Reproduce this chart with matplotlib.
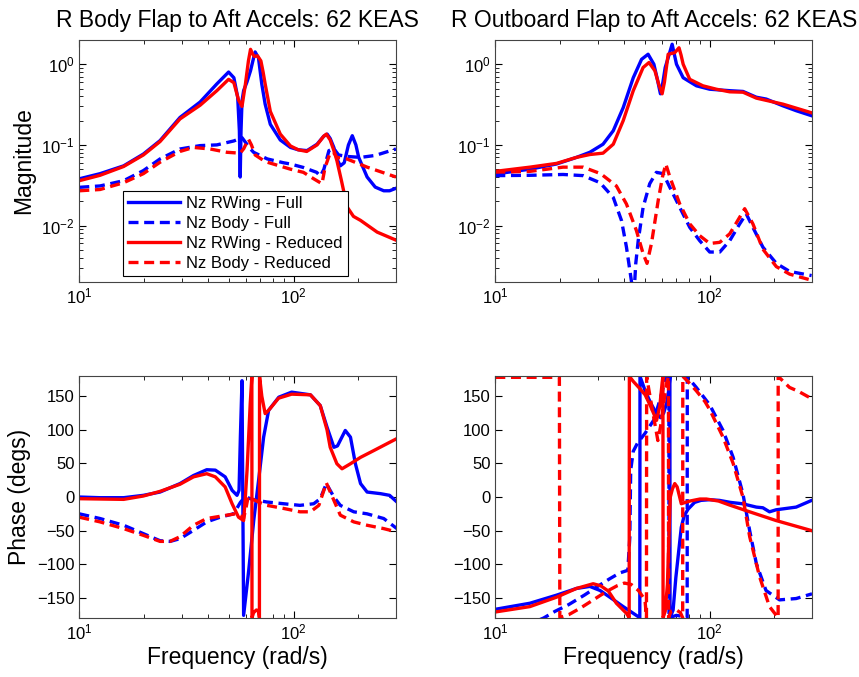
import numpy as np
import matplotlib
matplotlib.use("Agg")
import matplotlib.pyplot as plt
from matplotlib.ticker import LogLocator, FixedLocator

plt.rcParams['font.family'] = ['Liberation Sans', 'DejaVu Sans']
plt.rcParams['mathtext.fontset'] = 'custom'
plt.rcParams['mathtext.rm'] = 'Liberation Sans'
plt.rcParams['mathtext.it'] = 'Liberation Sans'

titles = ["R Body Flap to Aft Accels: 62 KEAS", "R Outboard Flap to Aft Accels: 62 KEAS"]
labels = ["Nz RWing - Full", "Nz Body - Full", "Nz RWing - Reduced", "Nz Body - Reduced"]

# ---- body flap, magnitude ----
bm_wing_full_f = [10, 12.5, 16.1, 19.9, 23.8, 29.5, 36.6, 43.8, 49.7, 52.6, 54.8, 55.8, 56.3, 56.8, 57.4, 58.4,
                  60.5, 62.9, 64.5, 66.1, 68.5, 71, 73.6, 77.8, 86.6, 96.6, 105, 115.4, 128.5, 138, 143.3, 148,
                  153.9, 160, 165, 172, 180, 187.6, 195, 201, 220, 240, 263, 280, 300]
bm_wing_full = [0.038, 0.044, 0.055, 0.077, 0.113, 0.219, 0.34, 0.57, 0.80, 0.68, 0.39, 0.15, 0.04, 0.15, 0.35, 0.47,
                0.6, 0.83, 1.1, 1.42, 1.2, 0.565, 0.32, 0.18, 0.115, 0.093, 0.087, 0.085, 0.102, 0.128, 0.136, 0.12,
                0.093, 0.065, 0.055, 0.06, 0.1, 0.13, 0.1, 0.07, 0.04, 0.03, 0.027, 0.027, 0.029]
bm_body_full_f = [10, 12.5, 16.1, 19.9, 23.8, 29.5, 36.6, 43.8, 52.6, 57.4, 60, 62.9, 65, 75.3, 89.8, 96.6, 111,
                  128, 133.2, 138.3, 146, 153.8, 162, 177, 205, 240, 300]
bm_body_full = [0.0298, 0.031, 0.036, 0.048, 0.067, 0.089, 0.098, 0.1, 0.112, 0.123, 0.105, 0.089, 0.081, 0.067,
                0.06, 0.058, 0.0525, 0.0457, 0.041, 0.05, 0.085, 0.09, 0.075, 0.072, 0.07, 0.074, 0.089]
bm_wing_red_f = [10, 12.5, 16.1, 19.9, 23.8, 29.5, 36.6, 43.8, 49.7, 52.6, 55.3, 57.4, 59.5, 61.5, 62.9, 64.2,
                 65.5, 67.8, 70.3, 72, 73.6, 77.8, 86.6, 96.6, 105, 115, 128.5, 138, 142, 148, 154, 159, 167,
                 177.5, 190, 205, 245, 300]
bm_wing_red = [0.036, 0.042, 0.054, 0.075, 0.11, 0.21, 0.31, 0.47, 0.65, 0.59, 0.36, 0.30, 0.56, 1.1, 1.53, 1.35,
               1.25, 1.27, 1.1, 0.8, 0.57, 0.26, 0.136, 0.097, 0.087, 0.083, 0.1, 0.128, 0.136, 0.115, 0.085, 0.064,
               0.036, 0.017, 0.013, 0.0116, 0.0083, 0.0066]
bm_body_red_f = [10, 12.5, 16.1, 19.9, 23.8, 29.5, 34.1, 40.8, 48.8, 56.3, 58.5, 61.5, 63.5, 66.1, 72.4, 75.3,
                 89.8, 96.6, 111, 124, 135.5, 140, 148.3, 154, 159, 177, 220, 300]
bm_body_red = [0.027, 0.028, 0.034, 0.044, 0.061, 0.083, 0.093, 0.089, 0.081, 0.079, 0.09, 0.118, 0.1, 0.075,
               0.064, 0.061, 0.053, 0.05, 0.0457, 0.038, 0.033, 0.0525, 0.081, 0.08, 0.07, 0.067, 0.053, 0.04]

# ---- outboard flap, magnitude ----
om_wing_full_f = [10, 14.5, 19.3, 23.9, 27.6, 31.8, 35.5, 39.5, 44, 48.1, 51.6, 54.9, 57, 58.9, 60.5, 62, 64,
                  66.8, 68.5, 70, 75.2, 86.7, 100, 124, 143, 165, 183.5, 219.6, 253.6, 298.7]
om_wing_full = [0.0436, 0.05, 0.058, 0.07, 0.081, 0.102, 0.15, 0.29, 0.68, 1.15, 1.33, 1.0, 0.65, 0.43, 0.6, 0.91,
                1.2, 1.77, 1.3, 1.0, 0.68, 0.54, 0.49, 0.47, 0.46, 0.39, 0.37, 0.305, 0.265, 0.23]
om_body_full_f = [10, 14.5, 20.7, 25.7, 30.8, 35.5, 38.8, 40.9, 43.2, 44.2, 45.2, 46.4, 48.9, 52.5, 56.4, 60.7,
                  65.2, 72.5, 80.7, 89.8, 100, 111.4, 124, 138, 148, 159, 177, 204.5, 236, 298.7]
om_body_full = [0.0416, 0.042, 0.043, 0.0416, 0.034, 0.0223, 0.0115, 0.0054, 0.002, 0.0012, 0.0034, 0.0065, 0.0168,
                0.033, 0.0457, 0.044, 0.0297, 0.0168, 0.0095, 0.0065, 0.0047, 0.0047, 0.0065, 0.0105, 0.014,
                0.0095, 0.0054, 0.0034, 0.0027, 0.0024]
om_wing_red_f = [10, 14.5, 19.3, 23.9, 27.6, 31.8, 35.5, 39.5, 44, 48.9, 52.1, 55.5, 58, 60, 61.5, 62.8, 64,
                 68.7, 71.9, 73.5, 75.2, 80.7, 93, 107.4, 124, 143, 165, 219.6, 298.7]
om_wing_red = [0.047, 0.053, 0.059, 0.07, 0.076, 0.079, 0.102, 0.2, 0.47, 0.91, 1.05, 0.83, 0.55, 0.43, 0.6, 0.91,
               1.33, 1.39, 1.6, 1.3, 1.0, 0.65, 0.54, 0.49, 0.455, 0.45, 0.38, 0.32, 0.25]
om_body_red_f = [10, 14.5, 20.7, 25.7, 31, 36.7, 40.9, 45.5, 48.9, 51, 53.5, 57.5, 60.2, 62.4, 65.2, 72.5, 80.7,
                 89.8, 100, 111.4, 124, 138, 145.6, 159, 177, 204.5, 236, 298.7]
om_body_red = [0.046, 0.047, 0.053, 0.053, 0.044, 0.031, 0.0185, 0.0087, 0.0045, 0.0034, 0.006, 0.0204, 0.04,
               0.058, 0.04, 0.0185, 0.0105, 0.0075, 0.006, 0.0062, 0.0079, 0.0127, 0.0162, 0.0105, 0.0051, 0.0031,
               0.0025, 0.0021]

# ---- body flap, phase ----
bp_wing_full_f = [10, 12.5, 16.1, 19.9, 23.8, 29.5, 34.1, 39.3, 43.1, 47.9, 51.6, 54.4, 55.6, 56.4, 57.4, 58.4,
                  61.7, 65.1, 68.6, 72.4, 76.4, 85.2, 97.8, 119.7, 133, 143, 154, 160, 174, 184, 194, 205, 220,
                  254, 280, 303]
bp_wing_full = [0, -1, -1, 2.5, 7.4, 20, 32, 40.6, 40, 30, 10, 2.5, 10, 89, 173, -176,
                -109, -35, 25, 89, 129, 148.5, 156, 152, 136, 104, 74, 76, 99, 89, 49.5, 20, 7.4,
                5, 2.5, -7.4]
bp_body_full_f = [10, 12.5, 16.1, 19.9, 23.8, 26.5, 29.5, 34.1, 39.3, 45.4, 52.5, 56.4, 58.5, 61, 65, 75, 89.8,
                  107, 124, 133, 142, 154, 165, 190.6, 220, 263, 303]
bp_body_full = [-25, -32, -42, -54.5, -65, -66, -62, -49.5, -37, -30, -25, -8, -2, -1, -4, -7.4, -10,
                -12.4, -10, -2.5, 20, 0, -12.4, -22, -25, -32, -47]
bp_wing_red_f = [10, 16.1, 19.9, 23.8, 29.5, 34.1, 39.3, 43.1, 47.9, 51.6, 55.3, 58.4, 59.5, 60.6, 62.7, 63.8,
                 63.9, 65, 67, 68.6, 69.2, 69.3, 71, 73.6, 76.4, 85, 97.8, 119.7, 133, 143, 148, 159, 168, 184,
                 205, 236, 303]
bp_wing_red = [-2.5, -3.5, 1.5, 8.4, 19, 30, 34.7, 30, 15, -10, -30, -35, 0, 40, 139, 179.5,
               -179.5, -172, -168, -170, -179.5, 179.5, 150, 124, 129, 147, 153, 152, 136, 100, 74, 49.5, 42, 49.5,
               59, 69, 87]
bp_body_red_f = [10, 12.5, 16.1, 19.9, 23.8, 26.5, 29.5, 34.1, 39.3, 48.8, 53.3, 56.4, 58.4, 60, 61.3, 63.8,
                 68.6, 75, 89.8, 107, 119.7, 131, 142, 154, 165, 190.6, 220, 263, 303]
bp_body_red = [-30, -37, -47, -57, -66, -66, -59, -42, -32, -27, -25, -28, -32, -15, 0, -2.5,
               -7.5, -12.4, -17, -22, -22, -12.4, 21, -5, -27, -37, -42, -47, -52]

# ---- outboard flap, phase ----
op_wing_full_f = [10, 14.5, 19.3, 23.9, 27.6, 30.8, 34.2, 39.5, 44, 47.2, 47.3, 50, 53, 56.5, 59, 61, 63, 64.5,
                  65.2, 65.3, 67.5, 69.5, 71.2, 73.7, 76, 79.3, 85, 91, 100, 111, 125, 142, 165, 177, 190, 204,
                  253, 299]
op_wing_full = [-167, -158, -146, -136, -133, -139, -149, -163, -173, -179.5, 179.5, 158, 140, 124, 118, 125, 140,
                160, 179.5, -179.5, -168, -120, -89, -45, -28, -18, -8, -5, -4, -5, -8, -10, -15, -16, -22, -19,
                -15, -5]
op_body_full_f = [10, 13, 16.8, 19, 22, 26, 30, 34, 38, 41.5, 42.4, 42.8, 44, 46, 50, 55, 58, 61, 62.5, 64.5,
                  64.6, 70, 76, 78.5, 78.6, 80, 86.6, 100, 115.4, 128.6, 142.8, 153.6, 165, 183, 211.7, 253, 300]
op_body_full = [-205, -195, -180, -170, -160, -146, -133, -122, -113, -109, -60, 40, 68, 80, 95, 115, 140, 165, 176,
                179.5, -179.5, -176, -178, -179.5, 179.5, 176, 163, 137, 99, 59, 5, -50, -99, -139, -153, -151, -144]
op_wing_red_f = [10, 14.5, 19.3, 23.9, 28.6, 31, 33.7, 36.7, 40.9, 42.1, 42.2, 44, 47, 50, 53, 56.5, 58.5, 60,
                 60.5, 60.6, 62, 63.5, 64.5, 65.5, 67, 68.7, 70.5, 73.7, 77, 80.8, 90, 96.5, 110, 124, 153.6, 204,
                 299]
op_wing_red = [-171, -163, -149, -136, -129, -132, -140, -158, -173, -179.5, 179.5, 172, 162, 152, 135, 114, 135,
               170, 179.5, -179.5, -170, -130, -60, 0, 12, 20, 15, -10, -8, -6, -3, -3, -6, -12, -22, -35, -50]
op_body_red_f = [10, 15, 19.9, 20.0, 22, 25, 28, 31, 33.7, 37, 40, 43, 46.5, 49.9, 50.7, 50.8, 52, 54, 57.3, 59,
                 61, 63, 64.2, 64.3, 66, 70, 73, 74.8, 74.9, 79, 86.6, 95, 100, 115.4, 128.6, 142.8, 153.6, 171,
                 190, 208.5, 208.6, 235.6, 260, 300]
op_body_red = [178, 178, 178, -179, -175, -165, -155, -146, -139, -132, -128, -130, -139, -153, -179.5, 179.5, 160,
               130, 84, 105, 140, 170, 179.5, -179.5, -170, -168, -172, -179.5, 179.5, 172, 158, 142, 130, 89, 50, 0,
               -59, -119, -163, -179.5, 179.5, 163, 157, 146]

fig = plt.figure(figsize=(8.59, 6.77), dpi=100)
ax_tl = fig.add_axes([0.0923, 0.5835, 0.3687, 0.3575])
ax_tr = fig.add_axes([0.5766, 0.5835, 0.3687, 0.3575])
ax_bl = fig.add_axes([0.0923, 0.0871, 0.3687, 0.3575])
ax_br = fig.add_axes([0.5766, 0.0871, 0.3687, 0.3575])

lw = 2.4
dash = (3.0, 1.7)


def draw(ax, series):
    styles = [('b', '-'), ('b', '--'), ('r', '-'), ('r', '--')]
    handles = []
    for (f, v), (c, ls), lab in zip(series, styles, labels):
        h, = ax.plot(f, v, color=c, linestyle=ls, lw=lw, label=lab)
        if ls == '--':
            h.set_dashes(dash)
        handles.append(h)
    ax.set_xscale('log')
    ax.set_xlim(10, 300)
    ax.xaxis.set_major_locator(FixedLocator([10, 100]))
    ax.xaxis.set_minor_locator(LogLocator(base=10, subs=np.arange(2, 10)))
    ax.tick_params(which='both', direction='in', top=True, right=True, labelsize=12)
    ax.tick_params(which='major', length=5, width=0.8)
    ax.tick_params(which='minor', length=3, width=0.6)
    for s in ax.spines.values():
        s.set_linewidth(0.8)
        s.set_color('#444444')
    return handles


h = draw(ax_tl, [(bm_wing_full_f, bm_wing_full), (bm_body_full_f, bm_body_full),
                 (bm_wing_red_f, bm_wing_red), (bm_body_red_f, bm_body_red)])
draw(ax_tr, [(om_wing_full_f, om_wing_full), (om_body_full_f, om_body_full),
             (om_wing_red_f, om_wing_red), (om_body_red_f, om_body_red)])
draw(ax_bl, [(bp_wing_full_f, bp_wing_full), (bp_body_full_f, bp_body_full),
             (bp_wing_red_f, bp_wing_red), (bp_body_red_f, bp_body_red)])
draw(ax_br, [(op_wing_full_f, op_wing_full), (op_body_full_f, op_body_full),
             (op_wing_red_f, op_wing_red), (op_body_red_f, op_body_red)])

for ax in (ax_tl, ax_tr):
    ax.set_yscale('log')
    ax.set_ylim(0.002, 2)
    ax.yaxis.set_major_locator(FixedLocator([0.01, 0.1, 1]))
    ax.yaxis.set_minor_locator(LogLocator(base=10, subs=np.arange(2, 10)))

for ax in (ax_bl, ax_br):
    ax.set_ylim(-180, 180)
    ax.set_yticks([-150, -100, -50, 0, 50, 100, 150])
    ax.set_xlabel("Frequency (rad/s)", fontsize=16.5, labelpad=2)

ax_tl.set_title(titles[0], fontsize=16.5, pad=9)
ax_tr.set_title(titles[1], fontsize=16.5, pad=9)
ax_tl.set_ylabel("Magnitude", fontsize=16.5)
ax_bl.set_ylabel("Phase (degs)", fontsize=16.5)

leg = ax_tl.legend(handles=h, loc='lower left', bbox_to_anchor=(0.138, 0.025), borderaxespad=0,
                   fontsize=12, handlelength=3.1, handletextpad=0.4, labelspacing=0.3,
                   fancybox=False, framealpha=1, edgecolor='black', borderpad=0.3)
leg.get_frame().set_linewidth(0.8)

fig.savefig("out.png", dpi=100)
